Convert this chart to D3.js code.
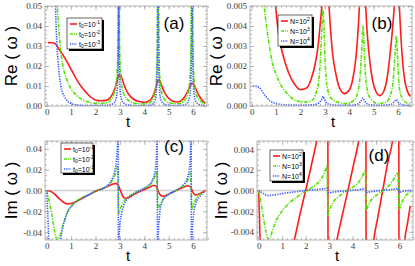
<!DOCTYPE html>
<html>
<head>
<meta charset="utf-8">
<script src="https://cdn.jsdelivr.net/npm/d3@7"></script>
<style>
  body { margin: 0; background: #fff; }
  svg { display: block; }
</style>
</head>
<body>
<div id="chart"></div>
<script>
// ---- values, [t, value] ----
// (a) Re(w) for t0 = 10^-1, 10^-2, 10^-3
const reA_1 = [[0.05,0.0317],[0.25,0.0316],[0.4,0.0305],[0.5,0.0285],[0.65,0.0258],[0.8,0.0228],[1.0,0.0183],[1.2,0.0138],[1.4,0.0100],[1.6,0.0070],[1.8,0.0045],[2.0,0.0030],[2.2,0.0026],[2.4,0.0028],[2.55,0.0036],[2.7,0.0060],[2.8,0.0090],[2.88,0.0125],[2.95,0.0152],[3.0,0.0158],[3.05,0.0150],[3.12,0.0125],[3.22,0.0090],[3.35,0.0060],[3.55,0.0035],[3.8,0.0022],[4.0,0.0018],[4.15,0.0022],[4.3,0.0038],[4.4,0.0062],[4.48,0.0095],[4.55,0.0125],[4.6,0.0130],[4.65,0.0122],[4.72,0.0100],[4.82,0.0070],[4.95,0.0045],[5.15,0.0025],[5.35,0.0020],[5.5,0.0026],[5.65,0.0045],[5.78,0.0075],[5.88,0.0100],[5.95,0.0113],[6.0,0.0112],[6.06,0.0100],[6.15,0.0075],[6.25,0.0050],[6.38,0.0028],[6.5,0.0013]];
const reA_2 = [[0.38,0.08],[0.44,0.05],[0.5,0.038],[0.55,0.030],[0.6,0.025],[0.7,0.018],[0.8,0.014],[0.9,0.011],[1.0,0.0085],[1.15,0.0062],[1.3,0.0045],[1.5,0.0030],[1.75,0.0018],[2.0,0.0013],[2.3,0.0013],[2.5,0.0020],[2.65,0.0035],[2.75,0.0060],[2.83,0.0100],[2.88,0.016],[2.92,0.030],[2.955,0.08],[2.99,0.030],[3.03,0.016],[3.09,0.009],[3.2,0.005],[3.35,0.0028],[3.6,0.0014],[3.9,0.0010],[4.15,0.0013],[4.3,0.0025],[4.4,0.005],[4.47,0.010],[4.52,0.020],[4.565,0.08],[4.61,0.022],[4.66,0.011],[4.73,0.006],[4.85,0.003],[5.1,0.0014],[5.4,0.0012],[5.6,0.0022],[5.75,0.005],[5.83,0.009],[5.9,0.02],[5.955,0.08],[6.0,0.025],[6.05,0.012],[6.15,0.005],[6.3,0.0025],[6.5,0.0012]];
const reA_3 = [[0.3,0.08],[0.36,0.05],[0.41,0.033],[0.46,0.023],[0.52,0.015],[0.58,0.010],[0.66,0.0065],[0.78,0.0035],[0.95,0.0015],[1.2,0.0006],[1.6,0.0002],[2.2,0.0002],[2.6,0.0006],[2.75,0.0015],[2.85,0.004],[2.9,0.010],[2.93,0.025],[2.95,0.09],[2.97,0.025],[3.0,0.010],[3.05,0.004],[3.15,0.0015],[3.4,0.0004],[3.9,0.0001],[4.3,0.0005],[4.45,0.003],[4.5,0.009],[4.54,0.03],[4.56,0.09],[4.58,0.03],[4.62,0.009],[4.68,0.003],[4.85,0.0007],[5.3,0.0002],[5.7,0.0008],[5.85,0.004],[5.91,0.012],[5.94,0.04],[5.96,0.09],[5.98,0.03],[6.02,0.009],[6.1,0.0025],[6.3,0.0005],[6.5,0.0002]];

// (b) Re(w) for N = 10^2, 10^3, 10^4
const reB_2 = [[0.8,0.009],[0.98,0.005],[1.1,0.0036],[1.25,0.0027],[1.5,0.0017],[1.75,0.0011],[2.0,0.00082],[2.25,0.0009],[2.45,0.0014],[2.6,0.0021],[2.72,0.0030],[2.8,0.0040],[2.88,0.0052],[2.95,0.008],[3.05,0.010],[3.12,0.0065],[3.18,0.0048],[3.3,0.0028],[3.45,0.0016],[3.6,0.0009],[3.8,0.00062],[4.0,0.0008],[4.15,0.0014],[4.27,0.0024],[4.35,0.0036],[4.42,0.0052],[4.5,0.009],[4.58,0.011],[4.63,0.0065],[4.68,0.0048],[4.8,0.0027],[4.95,0.0013],[5.1,0.0007],[5.25,0.00052],[5.4,0.0007],[5.55,0.0014],[5.68,0.0027],[5.78,0.0040],[5.86,0.0055],[5.93,0.009],[6.0,0.0065],[6.06,0.0048],[6.15,0.0028],[6.3,0.0011],[6.5,0.00047]];
const reB_3 = [[0.45,0.008],[0.52,0.005],[0.6,0.0041],[0.75,0.0028],[0.9,0.0019],[1.0,0.0016],[1.16,0.00113],[1.4,0.0007],[1.64,0.0004],[2.0,0.00022],[2.3,0.0002],[2.5,0.0003],[2.65,0.0007],[2.75,0.0013],[2.82,0.0024],[2.87,0.0037],[2.92,0.0048],[2.96,0.0040],[3.0,0.0025],[3.05,0.0014],[3.12,0.0008],[3.25,0.0004],[3.5,0.0002],[3.9,0.00012],[4.2,0.0003],[4.35,0.0007],[4.45,0.0016],[4.52,0.0030],[4.56,0.0040],[4.6,0.0032],[4.65,0.0018],[4.72,0.0009],[4.85,0.0004],[5.2,0.00012],[5.5,0.0002],[5.7,0.0006],[5.8,0.0013],[5.87,0.0025],[5.93,0.0035],[5.97,0.0027],[6.02,0.0014],[6.1,0.0006],[6.3,0.0002],[6.5,0.0001]];
const reB_4 = [[0.05,0.00100],[0.2,0.00098],[0.3,0.00092],[0.4,0.0008],[0.5,0.0006],[0.6,0.00045],[0.8,0.00022],[1.0,0.00012],[1.5,0.00005],[2.0,0.00004],[2.5,0.00006],[2.75,0.00015],[2.88,0.00035],[2.93,0.00048],[2.98,0.00035],[3.1,0.00012],[3.5,0.00004],[4.0,0.00003],[4.35,0.0001],[4.5,0.00028],[4.56,0.0004],[4.62,0.00026],[4.8,0.00007],[5.3,0.00003],[5.7,0.00008],[5.87,0.00025],[5.93,0.00033],[6.0,0.0002],[6.2,0.00005],[6.5,0.00002]];

// (c) Im(w) for t0 = 10^-1, 10^-2, 10^-3
const imC_1 = [[0,0],[0.15,-0.0008],[0.3,-0.003],[0.5,-0.0075],[0.7,-0.0115],[0.85,-0.0128],[1.0,-0.0125],[1.2,-0.0108],[1.5,-0.007],[1.8,-0.0032],[2.0,-0.0008],[2.3,0.002],[2.55,0.0045],[2.72,0.0062],[2.83,0.0068],[2.93,0.005],[3.02,0.0],[3.12,-0.0055],[3.22,-0.0075],[3.35,-0.0068],[3.6,-0.0035],[3.9,0.0],[4.2,0.003],[4.38,0.0048],[4.47,0.0045],[4.55,0.0005],[4.65,-0.0042],[4.77,-0.0055],[4.95,-0.004],[5.3,0.0],[5.6,0.0032],[5.8,0.0045],[5.9,0.003],[5.98,-0.001],[6.08,-0.0042],[6.2,-0.0038],[6.35,-0.002],[6.5,0.0]];
const imC_2 = [[0,0],[0.1,-0.010],[0.2,-0.022],[0.3,-0.036],[0.38,-0.045],[0.45,-0.047],[0.55,-0.043],[0.65,-0.035],[0.75,-0.028],[0.85,-0.021],[1.0,-0.0155],[1.15,-0.0115],[1.4,-0.0075],[1.7,-0.004],[2.0,-0.0008],[2.3,0.002],[2.55,0.0055],[2.7,0.010],[2.8,0.015],[2.86,0.020],[2.9,0.023],[2.92,0.010],[2.95,-0.022],[3.0,-0.019],[3.1,-0.013],[3.3,-0.007],[3.6,-0.0025],[3.9,0.001],[4.2,0.005],[4.36,0.009],[4.45,0.014],[4.51,0.018],[4.53,0.005],[4.56,-0.018],[4.62,-0.015],[4.72,-0.010],[4.95,-0.0045],[5.3,0.0],[5.6,0.0045],[5.75,0.0085],[5.84,0.013],[5.9,0.017],[5.92,0.005],[5.95,-0.018],[6.02,-0.013],[6.15,-0.007],[6.35,-0.0025],[6.5,-0.0008]];
const imC_3 = [[0,0],[0.04,-0.02],[0.08,-0.045],[0.12,-0.07],[0.35,-0.12],[0.5,-0.07],[0.57,-0.048],[0.65,-0.036],[0.75,-0.027],[0.88,-0.019],[1.0,-0.0155],[1.2,-0.011],[1.5,-0.0068],[1.8,-0.0032],[2.0,-0.0008],[2.3,0.002],[2.55,0.0062],[2.7,0.012],[2.8,0.02],[2.87,0.032],[2.91,0.05],[2.93,0.09],[2.94,-0.09],[2.96,-0.05],[3.0,-0.033],[3.07,-0.022],[3.18,-0.013],[3.35,-0.007],[3.6,-0.0025],[3.9,0.001],[4.2,0.0055],[4.35,0.011],[4.45,0.02],[4.5,0.034],[4.53,0.09],[4.54,-0.09],[4.57,-0.045],[4.62,-0.025],[4.7,-0.013],[4.9,-0.0055],[5.3,0.0],[5.6,0.0055],[5.75,0.011],[5.84,0.02],[5.89,0.034],[5.92,0.09],[5.93,-0.09],[5.96,-0.045],[6.01,-0.025],[6.1,-0.013],[6.3,-0.005],[6.5,-0.0008]];

// (d) Im(w) for N = 10^2, 10^3, 10^4
const imD_2 = [[0,0],[0.03,-0.0022],[0.06,-0.005],[0.1,-0.012],[1.3,-0.0072],[1.52,-0.0048],[1.75,-0.0024],[2.0,0.0],[2.25,0.0025],[2.48,0.0049],[2.7,0.0075],[2.94,0.015],[2.96,-0.015],[3.1,-0.0075],[3.33,-0.0048],[3.56,-0.0024],[3.8,0.0],[4.03,0.0024],[4.26,0.0048],[4.45,0.0075],[4.56,0.015],[4.58,-0.015],[4.7,-0.0095],[4.9,-0.0048],[5.08,-0.0025],[5.28,0.0],[5.48,0.0025],[5.7,0.0048],[5.85,0.0075],[5.96,0.015],[5.98,-0.015],[6.1,-0.0085],[6.22,-0.0048],[6.35,-0.003],[6.45,-0.0015]];
const imD_3 = [[0,0],[0.1,-0.0012],[0.2,-0.0026],[0.3,-0.0039],[0.4,-0.0047],[0.48,-0.0046],[0.6,-0.0038],[0.75,-0.0029],[0.9,-0.0023],[1.1,-0.0017],[1.35,-0.0011],[1.6,-0.0007],[1.9,-0.0002],[2.2,0.0002],[2.45,0.0006],[2.65,0.0011],[2.78,0.0016],[2.87,0.0022],[2.9,0.0024],[2.93,0.0],[2.96,-0.0024],[3.02,-0.0019],[3.15,-0.0012],[3.4,-0.0006],[3.7,-0.0001],[4.0,0.0003],[4.25,0.0008],[4.4,0.0013],[4.5,0.0018],[4.54,0.0019],[4.56,0.0],[4.58,-0.0019],[4.65,-0.0015],[4.8,-0.0009],[5.05,-0.0004],[5.3,0.0],[5.55,0.0005],[5.75,0.0011],[5.87,0.0016],[5.92,0.0017],[5.95,0.0],[5.98,-0.0019],[6.05,-0.0014],[6.2,-0.0007],[6.35,-0.0003],[6.5,-0.0001]];
const imD_4 = [[0,0],[0.2,-0.0003],[0.4,-0.0005],[0.6,-0.00045],[1.0,-0.0003],[1.5,-0.00015],[2.0,0],[2.5,0.0001],[2.85,0.0002],[2.92,0.00025],[2.97,-0.00025],[3.1,-0.00018],[3.5,-0.00008],[4.0,0.00003],[4.45,0.00015],[4.55,0.0002],[4.58,-0.0002],[4.7,-0.00015],[5.2,0.0],[5.8,0.00015],[5.93,0.0002],[5.97,-0.0002],[6.1,-0.0001],[6.5,0]];

// tick values and legend labels
const xTicks = [0, 1, 2, 3, 4, 5, 6];
const reTicksA = [0, 0.01, 0.02, 0.03, 0.04, 0.05];
const reTicksB = [0, 0.001, 0.002, 0.003, 0.004, 0.005];
const imTicksC = [-0.04, -0.02, 0, 0.02, 0.04];
const imTicksD = [-0.004, -0.002, 0, 0.002, 0.004];
const t0Exps = ['-1', '-2', '-3'];
const nExps = ['2', '3', '4'];

const W = 415, H = 266;
const colors = ['#ff1c1c', '#55e400', '#3a5aff'];
const dashes = [null, '4,1.3,1.2,1.3', '1.3,1.2'];
const frameColor = '#a0a0a0';

const svg = d3.select('#chart').append('svg')
    .attr('width', W)
    .attr('height', H)
    .style('font-family', "'Liberation Sans', Arial, sans-serif");

function drawPanel(p)
{
    const x = d3.scaleLinear().domain([-0.07, 6.57]).range([p.left, p.right]);
    const y = d3.scaleLinear().domain(p.yDomain).range([p.bottom, p.top]);
    const g = svg.append('g');
    const clipId = 'clip-' + p.name;

    g.append('clipPath').attr('id', clipId)
        .append('rect')
        .attr('x', p.left).attr('y', p.top)
        .attr('width', p.right - p.left).attr('height', p.bottom - p.top);

    // light zero line on the Im panels
    if (p.zeroLine) {
        g.append('line')
            .attr('x1', p.left).attr('x2', p.right)
            .attr('y1', y(0)).attr('y2', y(0))
            .attr('stroke', '#d0d0d0').attr('stroke-width', 1.5);
    }

    // curves
    const line = d3.line()
        .x(d => x(d[0]))
        .y(d => y(d[1]))
        .curve(d3.curveMonotoneX);

    p.series.forEach((s, i) => {
        g.append('path')
            .datum(s)
            .attr('clip-path', `url(#${clipId})`)
            .attr('fill', 'none')
            .attr('stroke', colors[i])
            .attr('stroke-width', 1.6)
            .attr('stroke-dasharray', dashes[i])
            .attr('d', line);
    });

    // frame with inward ticks on all four sides
    g.append('rect')
        .attr('x', p.left).attr('y', p.top)
        .attr('width', p.right - p.left).attr('height', p.bottom - p.top)
        .attr('fill', 'none').attr('stroke', frameColor).attr('stroke-width', 0.8);

    const fmt = d => d3.format(p.fmt)(d).replace('\u2212', '-');
    const xMinor = d3.range(0, 6.61, 0.2);
    const yMinor = d3.range(p.yDomain[0] - p.yDomain[0] % p.minorStep, p.yDomain[1], p.minorStep);

    function styleAxis(sel) {
        sel.select('.domain').remove();
        sel.selectAll('line').attr('stroke', frameColor).attr('stroke-width', 0.7);
        sel.selectAll('text')
            .attr('fill', '#3a3a3a')
            .style('font-family', "'Liberation Serif', 'Times New Roman', serif")
            .style('font-size', '9px');
    }

    const axes = [
        [d3.axisBottom(x).tickValues(xTicks).tickSize(-4).tickPadding(3).tickFormat(d3.format('d')), `translate(0,${p.bottom})`],
        [d3.axisBottom(x).tickValues(xMinor).tickSize(-2).tickFormat(''), `translate(0,${p.bottom})`],
        [d3.axisTop(x).tickValues(xTicks).tickSize(-4).tickFormat(''), `translate(0,${p.top})`],
        [d3.axisTop(x).tickValues(xMinor).tickSize(-2).tickFormat(''), `translate(0,${p.top})`],
        [d3.axisLeft(y).tickValues(p.yTicks).tickSize(-4).tickPadding(3).tickFormat(fmt), `translate(${p.left},0)`],
        [d3.axisLeft(y).tickValues(yMinor).tickSize(-2).tickFormat(''), `translate(${p.left},0)`],
        [d3.axisRight(y).tickValues(p.yTicks).tickSize(-4).tickFormat(''), `translate(${p.right},0)`],
        [d3.axisRight(y).tickValues(yMinor).tickSize(-2).tickFormat(''), `translate(${p.right},0)`]
    ];
    axes.forEach(([ax, tr]) => {
        g.append('g').attr('transform', tr).call(ax).call(styleAxis);
    });

    // axis titles
    g.append('text')
        .attr('transform', `translate(${p.yTitleX},${(p.top + p.bottom) / 2}) rotate(-90)`)
        .attr('text-anchor', 'middle')
        .style('font-size', '17px')
        .text(p.yTitle);

    g.append('text')
        .attr('x', x(3.34)).attr('y', p.bottom + 21)
        .attr('text-anchor', 'middle')
        .style('font-size', '15px')
        .text('t');

    // panel tag
    g.append('text')
        .attr('x', p.tag[1]).attr('y', p.tag[2])
        .attr('text-anchor', 'middle')
        .style('font-size', '17px')
        .text(p.tag[0]);

    // legend box with drop shadow
    const L = p.legend;
    g.append('rect')
        .attr('x', L.x + 2).attr('y', L.y + 2)
        .attr('width', L.w).attr('height', L.h)
        .attr('fill', '#000');
    g.append('rect')
        .attr('x', L.x).attr('y', L.y)
        .attr('width', L.w).attr('height', L.h)
        .attr('fill', '#fff').attr('stroke', '#000').attr('stroke-width', 0.6);

    p.labels.forEach((lab, i) => {
        const ry = L.y + 6 + i * 10;
        g.append('line')
            .attr('x1', L.x + 3).attr('x2', L.x + 10)
            .attr('y1', ry).attr('y2', ry)
            .attr('stroke', colors[i])
            .attr('stroke-width', 1.6)
            .attr('stroke-dasharray', i === 0 ? null : (i === 1 ? '3,1,1,1' : '1.2,1'));
        const t = g.append('text')
            .attr('x', L.x + 12).attr('y', ry + 2.5)
            .style('font-size', '7px');
        t.append('tspan').text(lab.base);
        if (lab.sub) {
            t.append('tspan').attr('dy', 1.5).style('font-size', '5px').text(lab.sub);
            t.append('tspan').attr('dy', -1.5).text('=10');
        } else {
            t.append('tspan').text('=10');
        }
        t.append('tspan').attr('dy', -2.8).style('font-size', '5px').text(lab.sup);
    });
}

const t0Labels = t0Exps.map(e => ({ base: 't', sub: '0', sup: e }));
const nLabels = nExps.map(e => ({ base: 'N', sub: null, sup: e }));

drawPanel({
    name: 'a', left: 45, right: 207, top: 6, bottom: 106,
    yDomain: [0, 0.05], yTicks: reTicksA, minorStep: 0.002, fmt: '.2f',
    series: [reA_1, reA_2, reA_3], yTitle: 'Re ( \u03C9 )', yTitleX: 17,
    tag: ['(a)', 174, 29], legend: { x: 67, y: 18, w: 35, h: 31 }, labels: t0Labels
});
drawPanel({
    name: 'b', left: 250, right: 412, top: 6, bottom: 106,
    yDomain: [0, 0.005], yTicks: reTicksB, minorStep: 0.0002, fmt: '.3f',
    series: [reB_2, reB_3, reB_4], yTitle: 'Re ( \u03C9 )', yTitleX: 222,
    tag: ['(b)', 382, 29], legend: { x: 278, y: 15, w: 34, h: 31 }, labels: nLabels
});
drawPanel({
    name: 'c', left: 45, right: 207, top: 141, bottom: 240, zeroLine: true,
    yDomain: [-0.0475, 0.0475], yTicks: imTicksC, minorStep: 0.005, fmt: '.2f',
    series: [imC_1, imC_2, imC_3], yTitle: 'Im ( \u03C9 )', yTitleX: 17,
    tag: ['(c)', 174, 152], legend: { x: 61, y: 143, w: 32, h: 30 }, labels: t0Labels
});
drawPanel({
    name: 'd', left: 257, right: 413, top: 141, bottom: 240, zeroLine: true,
    yDomain: [-0.0048, 0.0048], yTicks: imTicksD, minorStep: 0.0005, fmt: '.3f',
    series: [imD_2, imD_3, imD_4], yTitle: 'Im ( \u03C9 )', yTitleX: 227,
    tag: ['(d)', 379, 161], legend: { x: 270, y: 150, w: 33, h: 31 }, labels: nLabels
});
</script>
</body>
</html>
